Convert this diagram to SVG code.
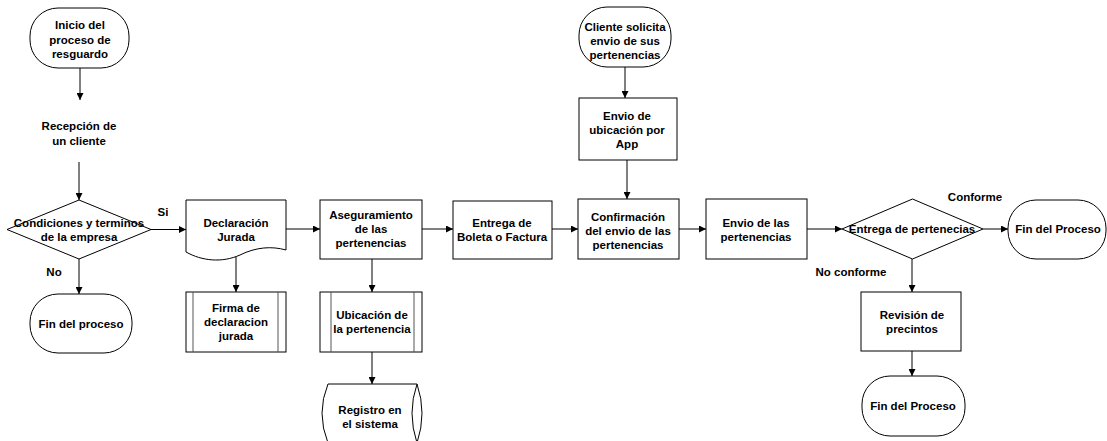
<svg xmlns="http://www.w3.org/2000/svg" width="1107" height="441" viewBox="0 0 1107 441">
<defs>
<style>
.s{fill:#fff;stroke:#000;stroke-width:1}
.in{stroke:#555;stroke-width:1;fill:none}
.t{font-family:"Liberation Sans",Arial,sans-serif;font-weight:bold;font-size:11.5px;fill:#000;text-anchor:middle}
.c{stroke:#000;stroke-width:1;fill:none;marker-end:url(#ah)}
</style>
<marker id="ah" viewBox="0 0 10 10" refX="10" refY="5" markerWidth="8" markerHeight="7" markerUnits="userSpaceOnUse" orient="auto"><path d="M0,0 L10,5 L0,10 z" fill="#000"/></marker>
</defs>
<rect width="1107" height="441" fill="#fff"/>
<g id="connectors">
<line class="c" x1="80" y1="68" x2="80" y2="100"/>
<line class="c" x1="79" y1="162" x2="79" y2="200"/>
<line class="c" x1="151" y1="229.5" x2="186" y2="229.5"/>
<line class="c" x1="79" y1="259" x2="79" y2="294"/>
<line class="c" x1="236" y1="256" x2="236" y2="292"/>
<line class="c" x1="286" y1="229" x2="320" y2="229"/>
<line class="c" x1="372" y1="259" x2="372" y2="292"/>
<line class="c" x1="372" y1="352" x2="372" y2="384"/>
<line class="c" x1="422" y1="229" x2="453" y2="229"/>
<line class="c" x1="552" y1="229" x2="578" y2="229"/>
<line class="c" x1="625" y1="67" x2="625" y2="98"/>
<line class="c" x1="627" y1="160" x2="627" y2="199"/>
<line class="c" x1="679" y1="229" x2="706" y2="229"/>
<line class="c" x1="807" y1="229" x2="842" y2="229"/>
<line class="c" x1="983" y1="229" x2="1008" y2="229"/>
<line class="c" x1="912" y1="259" x2="912" y2="292"/>
<line class="c" x1="912" y1="351" x2="912" y2="376"/>
<text class="t" x="163" y="216">Si</text>
<text class="t" x="54" y="276">No</text>
<text class="t" x="975" y="201">Conforme</text>
<text class="t" x="851" y="276">No conforme</text>
</g>
<g id="inicio">
<rect class="s" x="30" y="8" width="99" height="60" rx="28" ry="28"/>
<text class="t" x="80" y="29">Inicio del</text>
<text class="t" x="80" y="44">proceso de</text>
<text class="t" x="80" y="58">resguardo</text>
</g>
<g id="recepcion">
<text class="t" x="79" y="130">Recepción de</text>
<text class="t" x="79" y="145">un cliente</text>
</g>
<g id="condiciones">
<polygon class="s" points="7,229.5 79,200 151,229.5 79,259"/>
<text class="t" x="79" y="227">Condiciones y terminos</text>
<text class="t" x="79" y="241">de la empresa</text>
</g>
<g id="fin1">
<rect class="s" x="30" y="294" width="102" height="59" rx="28" ry="28"/>
<text class="t" x="81" y="328">Fin del proceso</text>
</g>
<g id="declaracion">
<path class="s" d="M186,200 H286 V250 C272,246 256,247 240,255 C222,263 202,261 186,252 Z"/>
<text class="t" x="236" y="227">Declaración</text>
<text class="t" x="236" y="241">Jurada</text>
</g>
<g id="firma">
<rect class="s" x="186" y="292" width="100" height="60"/>
<line class="in" x1="193" y1="292" x2="193" y2="352"/>
<line class="in" x1="278" y1="292" x2="278" y2="352"/>
<text class="t" x="236" y="312">Firma de</text>
<text class="t" x="236" y="326">declaracion</text>
<text class="t" x="236" y="340">jurada</text>
</g>
<g id="aseguramiento">
<rect class="s" x="320" y="200" width="102" height="59"/>
<text class="t" x="371" y="219">Aseguramiento</text>
<text class="t" x="371" y="233">de las</text>
<text class="t" x="371" y="247">pertenencias</text>
</g>
<g id="ubicacion">
<rect class="s" x="320" y="292" width="102" height="60"/>
<line class="in" x1="331" y1="292" x2="331" y2="352"/>
<line class="in" x1="414" y1="292" x2="414" y2="352"/>
<text class="t" x="372" y="319">Ubicación de</text>
<text class="t" x="372" y="333">la pertenencia</text>
</g>
<g id="registro">
<path class="s" d="M328,384 H417 Q427,413 417,443 H328 Q316,413 328,384 Z"/>
<path class="s" d="M417,384 Q407,413 417,443" fill="none"/>
<text class="t" x="370" y="414">Registro en</text>
<text class="t" x="370" y="428">el sistema</text>
</g>
<g id="boleta">
<rect class="s" x="453" y="201" width="99" height="58"/>
<text class="t" x="502" y="227">Entrega de</text>
<text class="t" x="502" y="241">Boleta o Factura</text>
</g>
<g id="cliente">
<rect class="s" x="579" y="7" width="92" height="60" rx="28" ry="28"/>
<text class="t" x="625" y="31">Cliente solicita</text>
<text class="t" x="625" y="45">envio de sus</text>
<text class="t" x="625" y="59">pertenencias</text>
</g>
<g id="envio-ubicacion">
<rect class="s" x="579" y="98" width="98" height="62"/>
<text class="t" x="627" y="120">Envio de</text>
<text class="t" x="627" y="134">ubicación por</text>
<text class="t" x="627" y="148">App</text>
</g>
<g id="confirmacion">
<rect class="s" x="578" y="199" width="101" height="60"/>
<text class="t" x="628" y="221">Confirmación</text>
<text class="t" x="628" y="235">del envio de las</text>
<text class="t" x="628" y="249">pertenencias</text>
</g>
<g id="envio-pertenencias">
<rect class="s" x="706" y="199" width="101" height="60"/>
<text class="t" x="756" y="227">Envio de las</text>
<text class="t" x="756" y="241">pertenencias</text>
</g>
<g id="entrega-pertenencias">
<polygon class="s" points="842,229 912.5,199 983,229 912.5,259"/>
<text class="t" x="912" y="233">Entrega de pertenecias</text>
</g>
<g id="fin2">
<rect class="s" x="1008" y="200" width="98" height="59" rx="28" ry="28"/>
<text class="t" x="1058" y="233">Fin del Proceso</text>
</g>
<g id="revision">
<rect class="s" x="861" y="292" width="100" height="59"/>
<text class="t" x="912" y="319">Revisión de</text>
<text class="t" x="912" y="333">precintos</text>
</g>
<g id="fin3">
<rect class="s" x="862" y="376" width="103" height="60" rx="28" ry="28"/>
<text class="t" x="913" y="410">Fin del Proceso</text>
</g>
</svg>
